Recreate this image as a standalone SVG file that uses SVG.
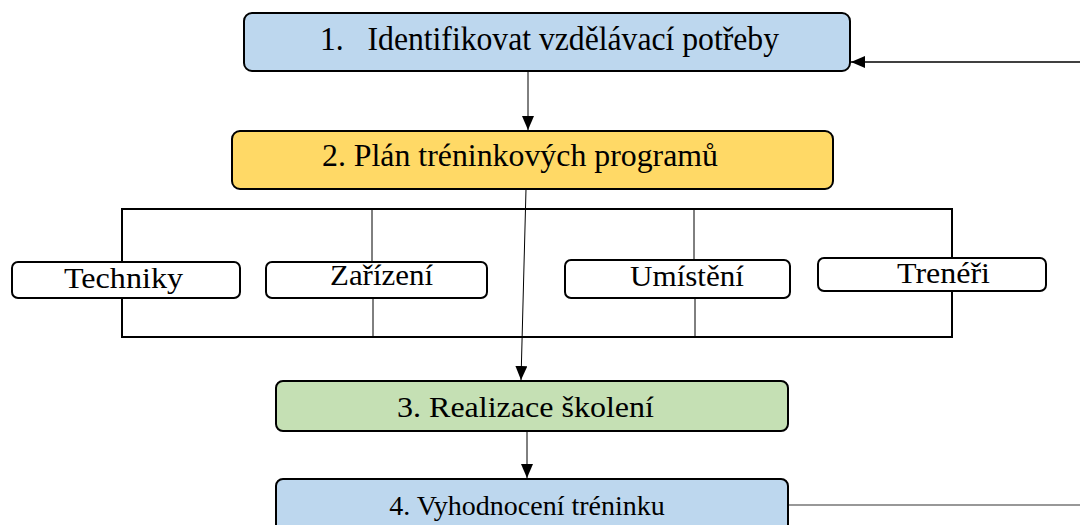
<svg xmlns="http://www.w3.org/2000/svg" width="1080" height="525" viewBox="0 0 1080 525">
<defs>
<marker id="ah" viewBox="0 0 14 12" refX="14" refY="6" markerWidth="14" markerHeight="12" markerUnits="userSpaceOnUse" orient="auto">
<path d="M0,0 L14,6 L0,12 z" fill="#000"/>
</marker>
<marker id="ahl" viewBox="0 0 14 12" refX="14" refY="6" markerWidth="14" markerHeight="12" markerUnits="userSpaceOnUse" orient="auto">
<path d="M0,0 L14,6 L0,12 z" fill="#000"/>
</marker>
</defs>
<style>
.box{stroke:#000;stroke-width:2}
.sub{fill:#fff;stroke:#000;stroke-width:2}
.t{font-family:"Liberation Serif","Times New Roman","DejaVu Serif",serif;fill:#000}
.thin{stroke:#000;stroke-width:1;fill:none}
.thick{stroke:#000;stroke-width:2;fill:none}
</style>
<rect width="1080" height="525" fill="#fff"/>
<g id="connectors">
<path class="thick" d="M122,262 V209 H952 V258 M952,291 V337 H122 V298"/>
<line class="thin" x1="372" y1="209" x2="372" y2="262"/>
<line class="thin" x1="373" y1="298" x2="373" y2="337"/>
<line class="thin" x1="694" y1="209" x2="694" y2="260"/>
<line class="thin" x1="695" y1="298" x2="695" y2="337"/>
<line class="thin" x1="528" y1="71" x2="528" y2="130" marker-end="url(#ah)"/>
<line class="thin" x1="526" y1="189" x2="521" y2="380" marker-end="url(#ah)"/>
<line class="thin" x1="527" y1="431" x2="527" y2="478" marker-end="url(#ah)"/>
<line x1="788" y1="505" x2="1080" y2="505" stroke="#333" stroke-width="1.2"/>
<line x1="1080" y1="62" x2="851" y2="62" stroke="#000" stroke-width="1.5" marker-end="url(#ahl)"/>
</g>
<g id="n1">
<rect class="box" x="244" y="13" width="606" height="58" rx="8" fill="#BDD7EE"/>
<text class="t" x="320" y="50" font-size="33" textLength="459" lengthAdjust="spacingAndGlyphs" xml:space="preserve">1.   Identifikovat vzdělávací potřeby</text>
</g>
<g id="n2">
<rect class="box" x="232" y="131" width="601" height="58" rx="8" fill="#FFD966"/>
<text class="t" x="322" y="166" font-size="31" textLength="396" lengthAdjust="spacingAndGlyphs">2. Plán tréninkových programů</text>
</g>
<g id="techniky">
<rect class="sub" x="12" y="262" width="228" height="36" rx="6"/>
<text class="t" x="64" y="288" font-size="29" textLength="119" lengthAdjust="spacingAndGlyphs">Techniky</text>
</g>
<g id="zarizeni">
<rect class="sub" x="266" y="262" width="221" height="36" rx="6"/>
<text class="t" x="330" y="285" font-size="29" textLength="103" lengthAdjust="spacingAndGlyphs">Zařízení</text>
</g>
<g id="umisteni">
<rect class="sub" x="565" y="260" width="225" height="38" rx="6"/>
<text class="t" x="630" y="286" font-size="29" textLength="114" lengthAdjust="spacingAndGlyphs">Umístění</text>
</g>
<g id="treneri">
<rect class="sub" x="818" y="258" width="228" height="33" rx="6"/>
<text class="t" x="897" y="283" font-size="29" textLength="93" lengthAdjust="spacingAndGlyphs">Trenéři</text>
</g>
<g id="n3">
<rect class="box" x="276" y="381" width="512" height="50" rx="7" fill="#C5E0B4"/>
<text class="t" x="397" y="417" font-size="29" textLength="257" lengthAdjust="spacingAndGlyphs">3. Realizace školení</text>
</g>
<g id="n4">
<rect class="box" x="276" y="479" width="512" height="60" rx="7" fill="#BDD7EE"/>
<text class="t" x="527" y="515" font-size="28" text-anchor="middle">4. Vyhodnocení tréninku</text>
</g>
</svg>
